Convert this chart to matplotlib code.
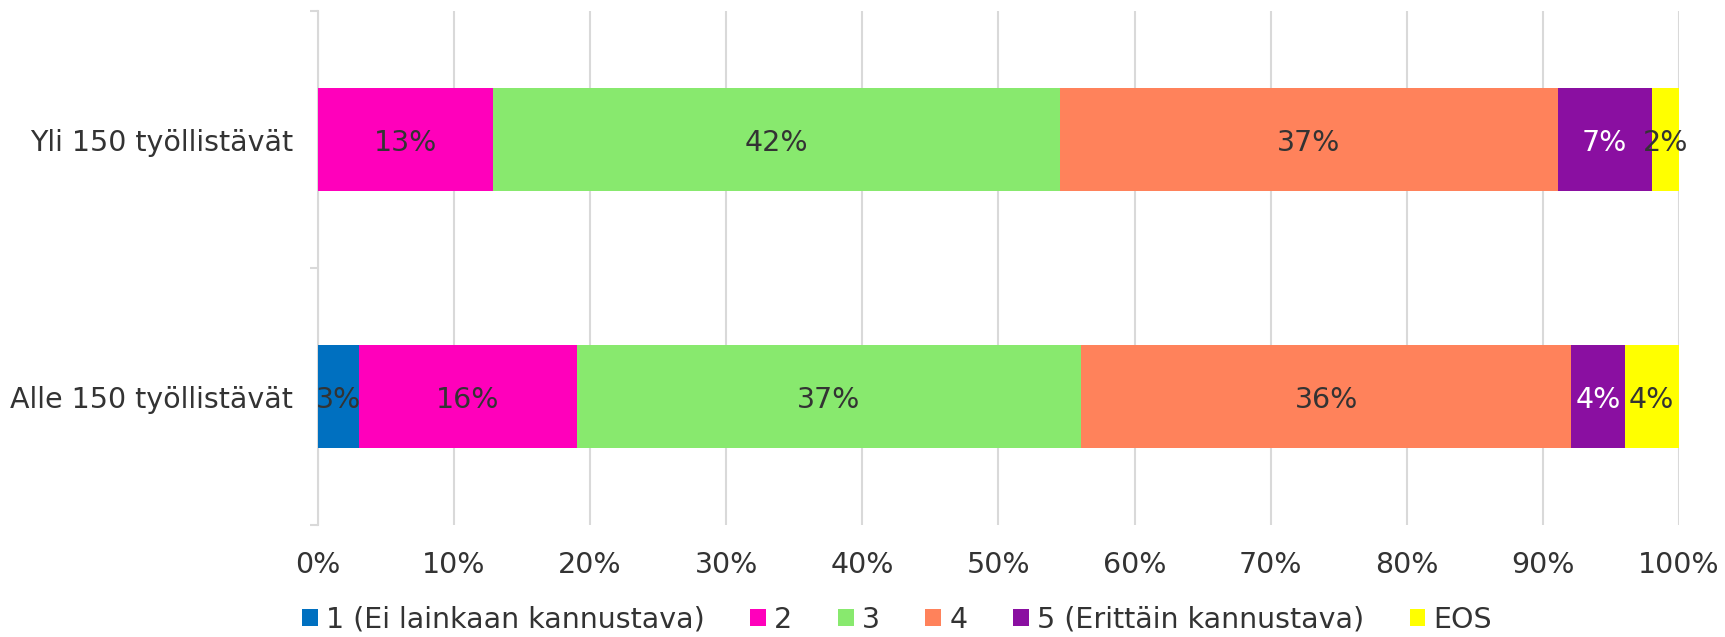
import matplotlib
matplotlib.use("Agg")
import matplotlib.pyplot as plt
import numpy as np

categories = ["Alle 150 työllistävät", "Yli 150 työllistävät"]
series_names = ["1 (Ei lainkaan kannustava)", "2", "3", "4", "5 (Erittäin kannustava)", "EOS"]
# values in percent, rows follow categories
s1 = [3.0, 0.0]
s2 = [16.0, 12.9]
s3 = [37.1, 41.6]
s4 = [36.0, 36.6]
s5 = [3.9, 6.9]
s6 = [4.0, 2.0]
series = [s1, s2, s3, s4, s5, s6]
colors = ["#0070C0", "#FF00BB", "#88E96E", "#FF825B", "#8A0FA1", "#FFFF00"]
label_colors = ["#333333", "#333333", "#333333", "#333333", "#FFFFFF", "#333333"]
xticks = [0, 10, 20, 30, 40, 50, 60, 70, 80, 90, 100]

plt.rcParams['font.family'] = ['DejaVu Sans']
txt = "#333333"
fs = 20.5

fig = plt.figure(figsize=(17.25, 6.37), dpi=100)
ax = fig.add_axes([0.1843, 0.1758, 0.9733 - 0.1843, 0.9827 - 0.1758])

y = np.arange(len(categories))
left = np.zeros(len(categories))
handles = []
for vals, c, lc, name in zip(series, colors, label_colors, series_names):
    vals = np.array(vals)
    b = ax.barh(y, vals, left=left, height=0.4, color=c, label=name, zorder=3)
    handles.append(b)
    for yi, (v, l) in enumerate(zip(vals, left)):
        if v > 0:
            ax.text(l + v / 2, yi, f"{v:.0f}%", ha="center", va="center_baseline",
                    color=lc, fontsize=fs, zorder=4)
    left = left + vals

ax.set_xlim(0, 100)
ax.set_ylim(-0.5, 1.5)
ax.set_xticks(xticks)
ax.set_xticklabels([f"{t}%" for t in xticks], fontsize=fs, color=txt)
ax.tick_params(axis="x", length=0, pad=19)
ax.set_yticks(y)
ax.set_yticklabels(categories, fontsize=fs, color=txt)
ax.tick_params(axis="y", which="major", length=0, pad=18)
ax.set_yticks([-0.5, 0.5, 1.5], minor=True)
ax.tick_params(axis="y", which="minor", length=6, width=1.5, color="#D9D9D9")

ax.grid(axis="x", color="#D9D9D9", linewidth=1.5, zorder=0)
for s in ["top", "right", "bottom"]:
    ax.spines[s].set_visible(False)
ax.spines["left"].set_color("#D9D9D9")
ax.spines["left"].set_linewidth(1.5)

fig.legend(handles=handles, labels=series_names, loc="lower center",
           bbox_to_anchor=(0.52, -0.035), ncol=6, frameon=False, fontsize=fs,
           handlelength=0.56, handleheight=0.56, handletextpad=0.28,
           columnspacing=1.6, labelcolor=txt)

fig.savefig("out.png", dpi=100)
